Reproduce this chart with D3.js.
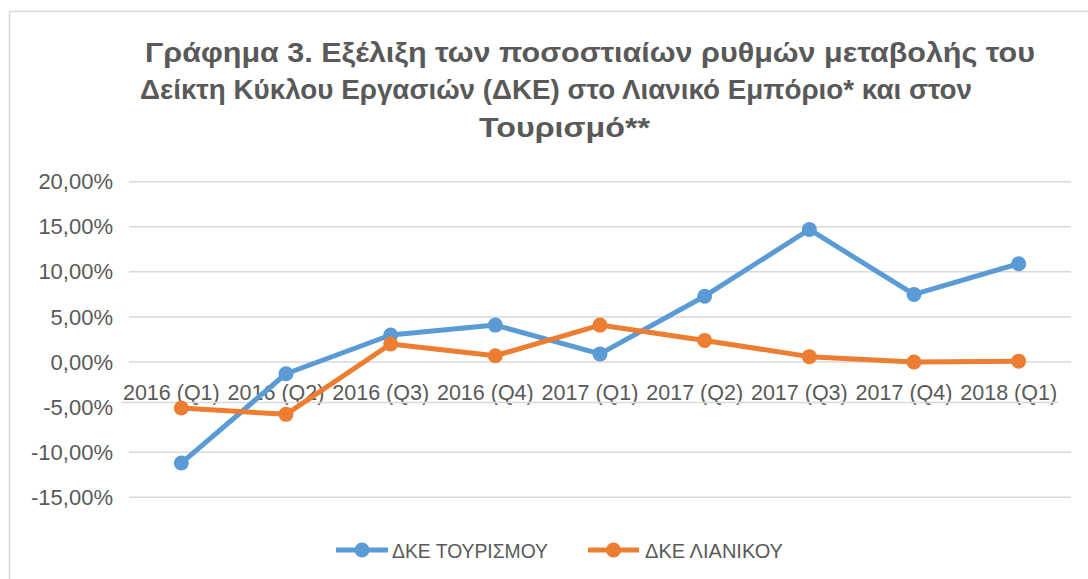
<!DOCTYPE html>
<html>
<head>
<meta charset="utf-8">
<script src="https://cdn.jsdelivr.net/npm/d3@7"></script>
<style>
  html, body { margin: 0; padding: 0; background: #fff; }
  svg { display: block; font-family: "Liberation Sans", Arial, sans-serif; }
</style>
</head>
<body>
<svg id="chart" width="1088" height="579"></svg>
<script>
// ---- data ----
const categories = ["2016 (Q1)", "2016 (Q2)", "2016 (Q3)", "2016 (Q4)", "2017 (Q1)", "2017 (Q2)", "2017 (Q3)", "2017 (Q4)", "2018 (Q1)"];
const tourism = [-0.112, -0.013, 0.030, 0.041, 0.009, 0.073, 0.147, 0.075, 0.109];
const retail  = [-0.051, -0.058, 0.020, 0.007, 0.041, 0.024, 0.006, 0.000, 0.001];
const seriesNames = ["ΔΚΕ ΤΟΥΡΙΣΜΟΥ", "ΔΚΕ ΛΙΑΝΙΚΟΥ"];
const yTicks = [0.20, 0.15, 0.10, 0.05, 0.00, -0.05, -0.10, -0.15];
const titleLines = [
  "Γράφημα 3. Εξέλιξη των ποσοστιαίων ρυθμών μεταβολής του",
  "Δείκτη Κύκλου Εργασιών (ΔΚΕ) στο Λιανικό Εμπόριο* και στον",
  "Τουρισμό**"
];

// ---- style / layout ----
const colors = ["#5B9BD5", "#ED7D31"];
const textColor = "#595959";
const gridColor = "#d9d9d9";
const axisCross = -0.045;

const svg = d3.select("#chart");

// chart border
svg.append("rect")
  .attr("x", 9.5).attr("y", 11.5).attr("width", 1100).attr("height", 600)
  .attr("fill", "#fff").attr("stroke", "#d9d9d9").attr("stroke-width", 1.5);

// title
const titleSpec = [
  {x: 145, y: 62, len: 890},
  {x: 140, y: 99, len: 832},
  {x: 479, y: 137, len: 171}
];
svg.append("g").selectAll("text").data(titleLines).join("text")
  .attr("x", (d, i) => titleSpec[i].x)
  .attr("y", (d, i) => titleSpec[i].y)
  .attr("textLength", (d, i) => titleSpec[i].len)
  .attr("lengthAdjust", "spacingAndGlyphs")
  .attr("font-size", 28).attr("font-weight", "bold").attr("fill", textColor)
  .text(d => d);

// scales
const x = d3.scaleBand().domain(categories).range([129, 1071]).padding(0);
const cx = c => x(c) + x.bandwidth() / 2;
const y = d3.scaleLinear().domain([-0.15, 0.20]).range([497.3, 181.7]);

const locale = d3.formatLocale({decimal: ",", thousands: ".", grouping: [3], currency: ["", "€"], minus: "-"});
const pct = locale.format(".2%");

// gridlines
svg.append("g").selectAll("line").data(yTicks.filter(t => Math.abs(t - (-0.05)) > 1e-9)).join("line")
  .attr("x1", 129).attr("x2", 1071)
  .attr("y1", d => y(d)).attr("y2", d => y(d))
  .attr("stroke", gridColor).attr("stroke-width", 1.5);

// y axis labels
const yAxis = d3.axisLeft(y).tickValues(yTicks).tickFormat(pct).tickSize(0).tickPadding(0);
const yg = svg.append("g").attr("transform", "translate(113,0)").call(yAxis);
yg.select(".domain").remove();
yg.selectAll("text").attr("font-size", 22).attr("fill", textColor)
  .attr("font-family", "'Liberation Sans', Arial, sans-serif");

// category labels
const xAxis = d3.axisBottom(x).tickSize(0).tickPadding(0);
const xg = svg.append("g").attr("transform", `translate(-10,${y(axisCross)})`).call(xAxis);
xg.select(".domain").remove();
xg.selectAll("text").attr("font-size", 21.5).attr("fill", textColor)
  .attr("font-family", "'Liberation Sans', Arial, sans-serif")
  .attr("dy", null).attr("y", -3);

// category axis line
svg.append("line")
  .attr("x1", 121).attr("x2", 1058)
  .attr("y1", y(axisCross)).attr("y2", y(axisCross))
  .attr("stroke", gridColor).attr("stroke-width", 1.5);

// series
const series = [tourism, retail];
const line = d3.line().x((d, i) => cx(categories[i])).y(d => y(d));
series.forEach((vals, si) => {
  svg.append("path").datum(vals)
    .attr("d", line).attr("fill", "none")
    .attr("stroke", colors[si]).attr("stroke-width", 5).attr("stroke-linejoin", "round").attr("stroke-linecap", "round");
  svg.append("g").selectAll("circle").data(vals).join("circle")
    .attr("cx", (d, i) => cx(categories[i])).attr("cy", d => y(d)).attr("r", 7.5)
    .attr("fill", colors[si]);
});

// legend
const legendSpec = [
  {x1: 336, x2: 388, tx: 392, len: 156},
  {x1: 588, x2: 639, tx: 645, len: 138}
];
const ly = 550;
const lg = svg.append("g");
seriesNames.forEach((name, i) => {
  const s = legendSpec[i];
  lg.append("line").attr("x1", s.x1).attr("x2", s.x2).attr("y1", ly).attr("y2", ly)
    .attr("stroke", colors[i]).attr("stroke-width", 5);
  lg.append("circle").attr("cx", (s.x1 + s.x2) / 2).attr("cy", ly).attr("r", 7.5).attr("fill", colors[i]);
  lg.append("text").attr("x", s.tx).attr("y", ly + 7.5)
    .attr("textLength", s.len).attr("lengthAdjust", "spacingAndGlyphs")
    .attr("font-size", 21).attr("fill", textColor).text(name);
});
</script>
</body>
</html>
